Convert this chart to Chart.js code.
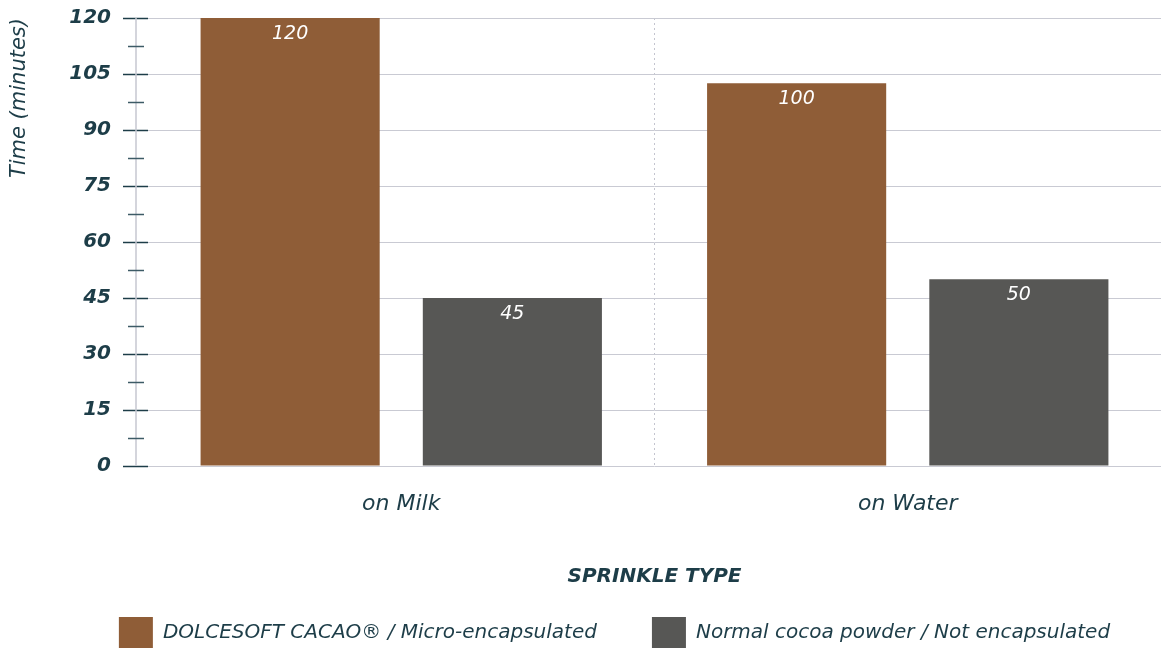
<!DOCTYPE html>
<html>
<head>
<meta charset="utf-8">
<script src="https://cdn.jsdelivr.net/npm/chart.js@4.4.0/dist/chart.umd.min.js"></script>
<style>
  body { margin: 0; background: #fff; }
</style>
</head>
<body>
<canvas id="chart" width="1163" height="648"></canvas>
<script>
var categories = ["on Milk", "on Water"];
var seriesNames = ["DOLCESOFT CACAO\u00ae / Micro-encapsulated", "Normal cocoa powder / Not encapsulated"];
// bar heights as drawn, and the numbers printed in the bars
var dolcesoft = [120, 102.5];
var normal = [45, 50];
var dolcesoftText = ["120", "100"];
var normalText = ["45", "50"];
var yTicks = [0, 15, 30, 45, 60, 75, 90, 105, 120];

var textColor = '#1d3d48';
var fontFam = '"DejaVu Sans", sans-serif';

var valueText = [dolcesoftText, normalText];

var barLabels = {
  id: 'barLabels',
  afterDatasetsDraw: function (chart) {
    var ctx = chart.ctx;
    ctx.save();
    ctx.fillStyle = '#ffffff';
    ctx.font = 'italic 19px ' + fontFam;
    ctx.textAlign = 'center';
    ctx.textBaseline = 'middle';
    chart.data.datasets.forEach(function (ds, i) {
      chart.getDatasetMeta(i).data.forEach(function (bar, j) {
        ctx.fillText(valueText[i][j], bar.x, bar.y + 16);
      });
    });
    ctx.restore();
  }
};

var yAxisDeco = {
  id: 'yAxisDeco',
  afterLayout: function (chart) {
    chart.legend.top -= 24;
    chart.legend.bottom -= 24;
    chart.legend.left += 34;
    chart.legend.right += 34;
  },
  afterDraw: function (chart) {
    var ctx = chart.ctx;
    var y = chart.scales.y;
    var x0 = chart.chartArea.left - 12;
    ctx.save();
    ctx.strokeStyle = '#c6c7d0';
    ctx.lineWidth = 1.5;
    ctx.beginPath();
    ctx.moveTo(x0, chart.chartArea.top);
    ctx.lineTo(x0, chart.chartArea.bottom);
    ctx.stroke();
    // minor ticks halfway between labels
    ctx.strokeStyle = '#3d5b66';
    for (var k = 0; k < yTicks.length - 1; k++) {
      var py = Math.round(y.getPixelForValue((yTicks[k] + yTicks[k + 1]) / 2)) + 0.5;
      ctx.beginPath();
      ctx.moveTo(x0 - 8, py);
      ctx.lineTo(x0 + 8, py);
      ctx.stroke();
    }
    ctx.restore();
  }
};

var chart = new Chart('chart', {
  type: 'bar',
  data: {
    labels: categories,
    datasets: [
      {
        label: seriesNames[0],
        data: dolcesoft,
        backgroundColor: '#8f5d37'
      },
      {
        label: seriesNames[1],
        data: normal,
        backgroundColor: '#575755'
      }
    ]
  },
  options: {
    responsive: false,
    animation: false,
    layout: { padding: { top: 0, right: 2, bottom: -35, left: 0 } },
    datasets: {
      bar: { categoryPercentage: 0.8775, barPercentage: 0.806 }
    },
    scales: {
      x: {
        afterFit: function (axis) { axis.height = 120; },
        grid: {
          offset: true,
          drawTicks: false,
          color: function (c) { return c.index === 1 ? '#c4c5cf' : 'transparent'; },
          lineWidth: 1
        },
        border: { display: false, dash: [2, 3] },
        ticks: {
          padding: 25,
          color: textColor,
          font: { family: fontFam, size: 22, style: 'italic' }
        },
        title: {
          display: true,
          text: 'SPRINKLE TYPE',
          color: textColor,
          padding: { top: 0, bottom: -3 },
          font: { family: fontFam, size: 20, style: 'italic', weight: 'bold' }
        }
      },
      y: {
        min: 0,
        max: 120,
        afterFit: function (axis) {
          axis.width = 148;
          axis.paddingTop = 18;
          axis.paddingBottom = 0;
        },
        afterBuildTicks: function (axis) {
          axis.ticks = yTicks.map(function (v) { return { value: v }; });
        },
        grid: {
          color: '#c9cad3',
          lineWidth: 1,
          tickLength: 25,
          tickColor: textColor,
          tickWidth: 1.5
        },
        border: { display: false },
        ticks: {
          padding: 12,
          color: textColor,
          font: { family: fontFam, size: 20, style: 'italic', weight: 'bold' }
        },
        title: {
          display: true,
          text: 'Time (minutes)',
          align: 'end',
          color: textColor,
          padding: { top: 7, bottom: 0 },
          font: { family: fontFam, size: 21, style: 'italic' }
        }
      }
    },
    plugins: {
      tooltip: { enabled: false },
      legend: {
        position: 'bottom',
        labels: {
          boxWidth: 34,
          boxHeight: 32,
          padding: 55,
          color: textColor,
          font: { family: fontFam, size: 20, style: 'italic' }
        }
      }
    }
  },
  plugins: [barLabels, yAxisDeco]
});
</script>
</body>
</html>
